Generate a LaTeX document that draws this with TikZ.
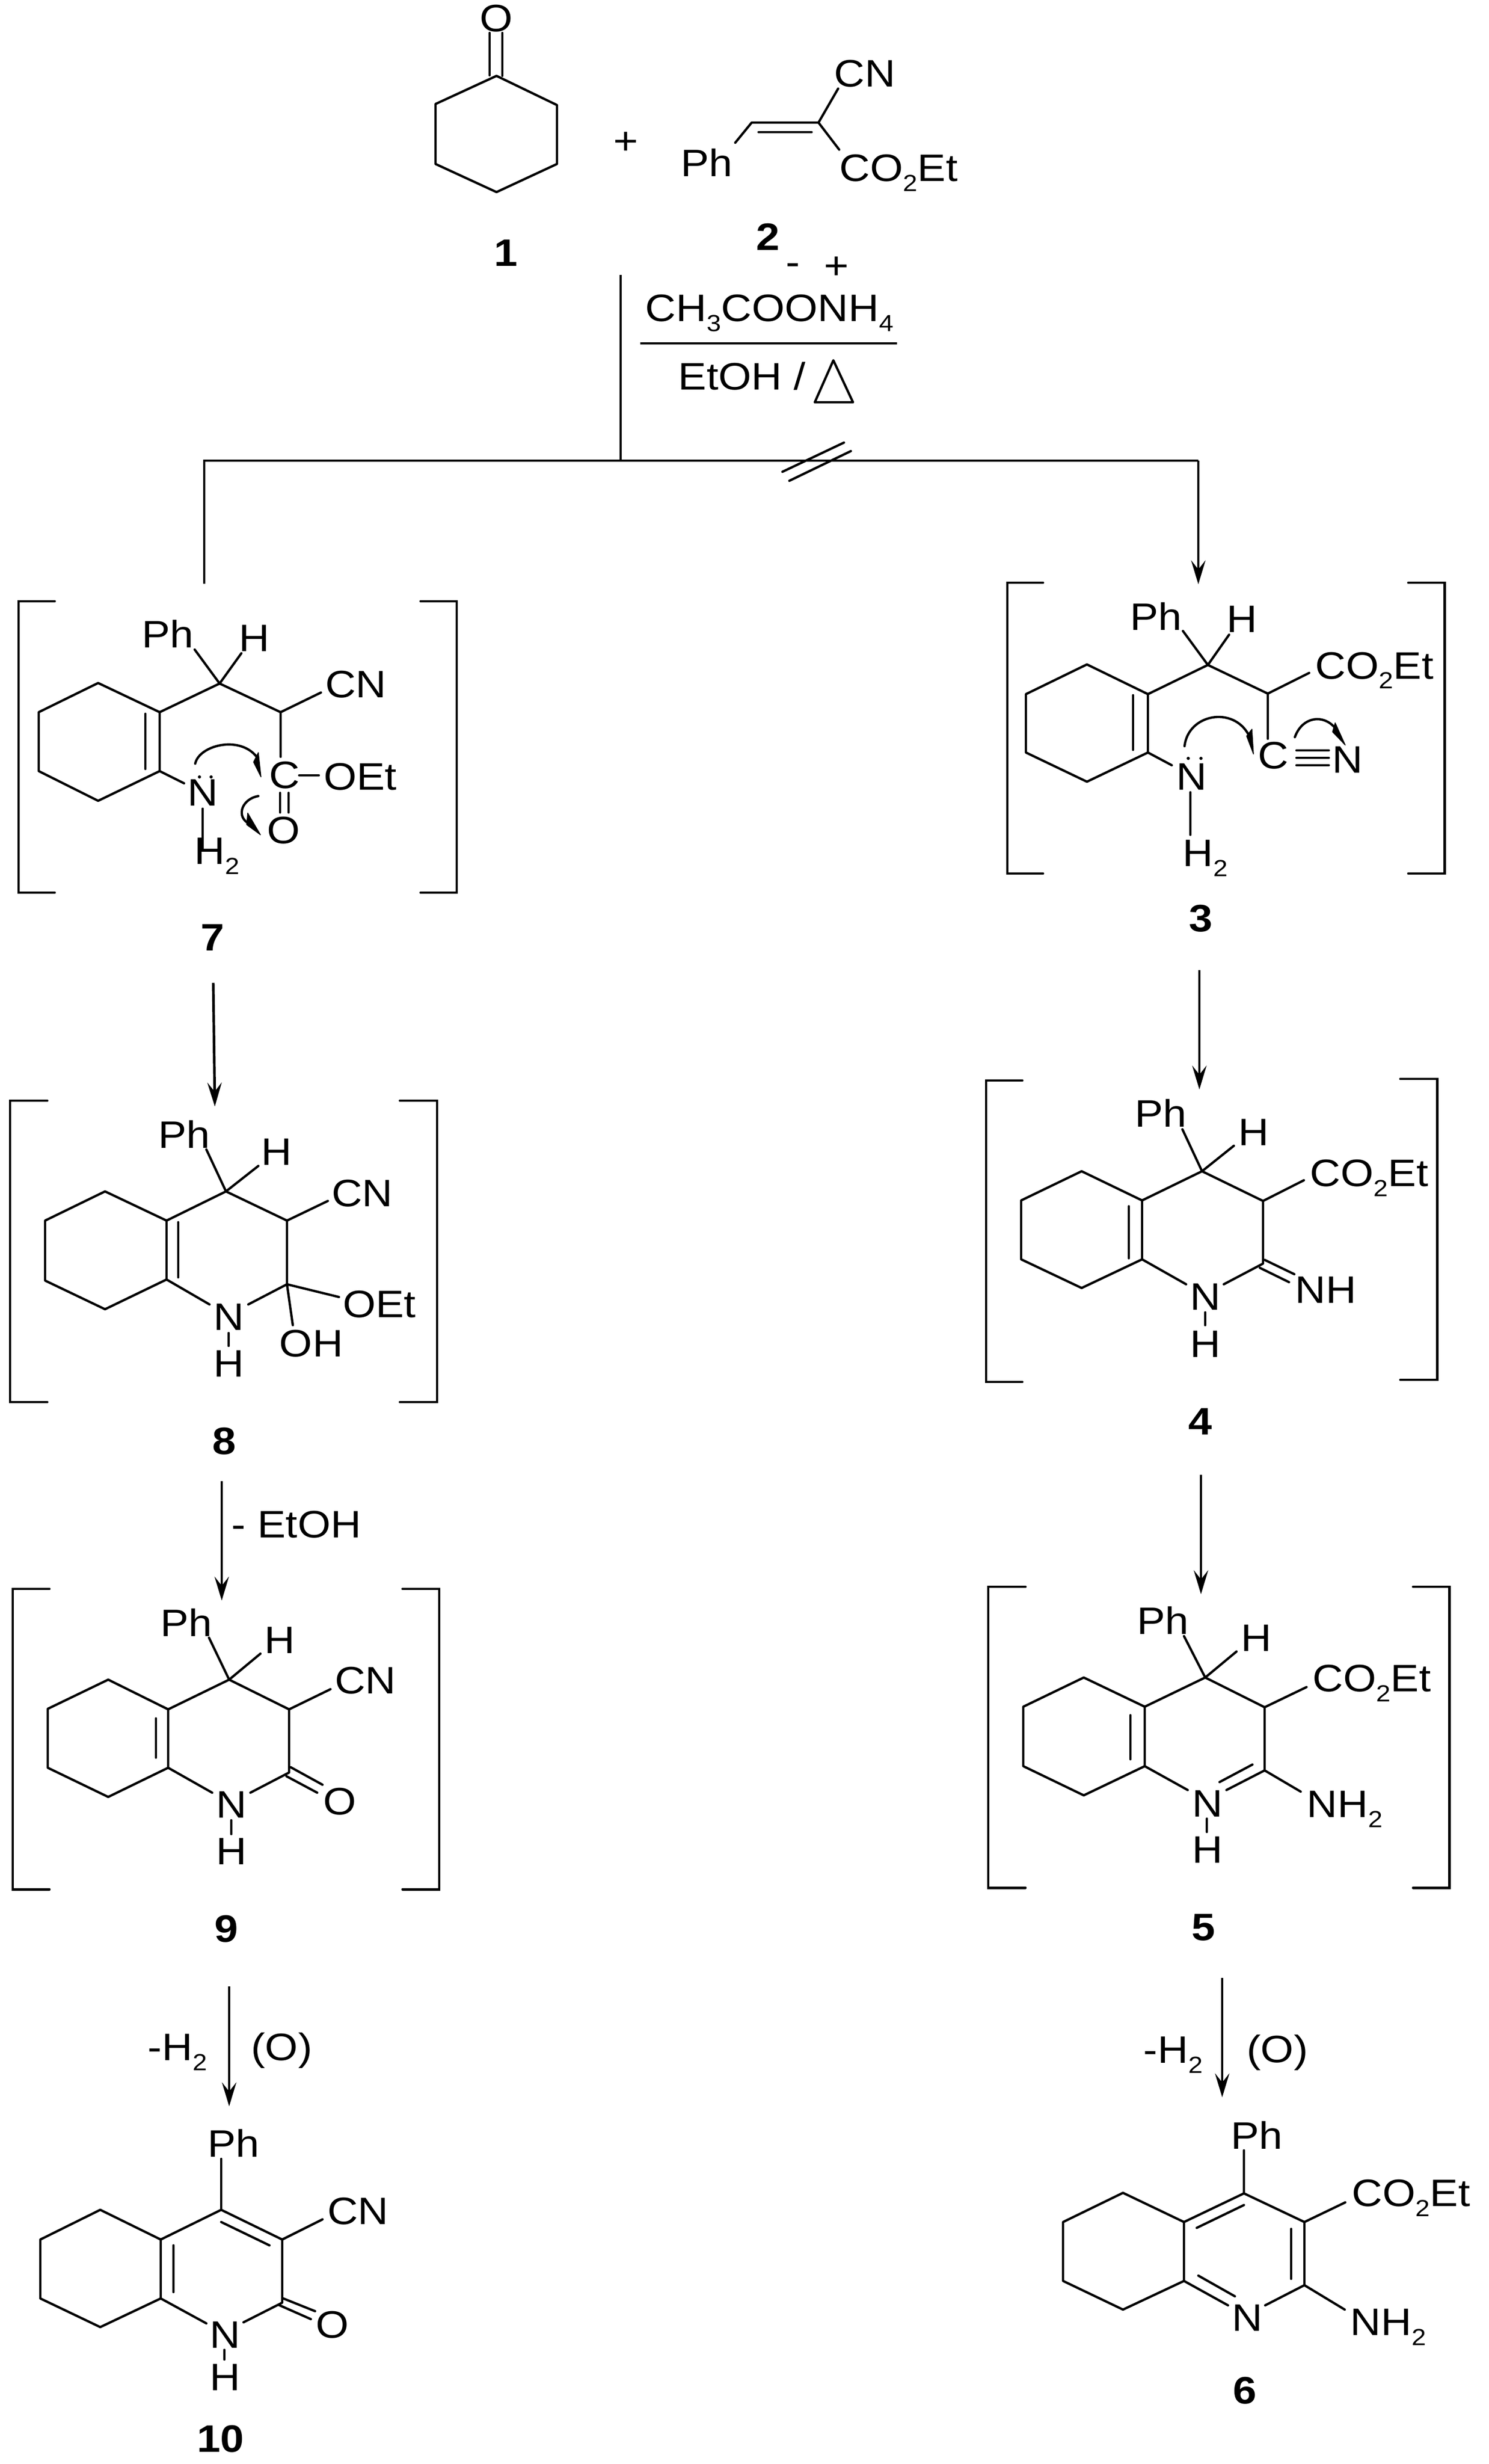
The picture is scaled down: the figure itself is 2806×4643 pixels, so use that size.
\documentclass[tikz,border=0pt]{standalone}
\usepackage{fontspec}
\setmainfont[FakeStretch=1.11]{Liberation Sans}
\usetikzlibrary{arrows.meta}
\newcommand{\two}{\raisebox{-5.4pt}{\fontsize{12.5}{12.5}\selectfont 2}}
\newcommand{\sbs}[1]{\raisebox{-5.4pt}{\fontsize{12.5}{12.5}\selectfont #1}}
\newcommand{\brk}[4]{\draw[brk] (#1,#3) -- (#2,#3) -- (#2,#4) -- (#1,#4);}
\tikzset{
  bond/.style={draw=black, line width=1.25pt, line cap=round, line join=round},
  brk/.style={draw=black, line width=1.4pt, line cap=round, line join=miter},
  flow/.style={draw=black, line width=1.4pt},
  arr/.style={flow, -{Stealth[length=4.5mm, width=2.7mm, inset=1.7mm]}},
  atom/.style={text=black, inner sep=0pt, font=\fontsize{20.5}{24}\selectfont},
  tag/.style={text=black, inner sep=0pt, font=\fontsize{20.5}{24}\selectfont\bfseries},
  west/.style={atom, anchor=base west},
  head/.style={fill=black, draw=black, line width=0.4pt, line join=round},
}
\begin{document}
\begin{tikzpicture}[x=0.01cm, y=-0.01cm]
  \useasboundingbox (0,0) rectangle (2806,4643);
  % reactants
  \draw[bond] (936,143) -- (1050,198) -- (1050,309) -- (936,362) -- (821,309) -- (821,196) -- cycle;
  \draw[bond] (923,142) -- (923,62) (947,143) -- (947,62);
  \node[atom] (o1) at (936,35) {O};
  \node[atom] (plus) at (1180,270) {+};
  \node[tag] (t1) at (954,477) {1};
  \draw[bond] (1386,269) -- (1417,231) -- (1543,231) -- (1580,167) (1543,231) -- (1582,282);
  \draw[bond] (1430,249) -- (1530,249);
  \node[atom] (ph2) at (1332,306) {Ph};
  \node[atom] (cn2) at (1630,139) {CN};
  \node[west] (es2) at (1582,342) {CO\two Et};
  \node[tag] (t2) at (1448,446) {2};
  % conditions
  \node[atom] (minus) at (1495,508) {-};
  \node[atom] (pluss) at (1577,505) {+};
  \node[west] (reag) at (1216,606) {CH\sbs{3}COONH\sbs{4}};
  \draw[flow] (1207,647) -- (1691,647);
  \node[west] (solv) at (1278,735) {EtOH /};
  \draw[bond] (1571,679) -- (1536,758) -- (1608,758) -- cycle;
  % fork
  \coordinate (top) at (1170,518);
  \coordinate (fork) at (1170,868);
  \coordinate (forkl) at (385,868);
  \coordinate (forkr) at (2259,868);
  \coordinate (endl) at (385,1100);
  \coordinate (tip3) at (2259,1101);
  \draw[flow] (top) -- (fork);
  \draw[flow] (endl) -- (forkl) -- (forkr);
  \draw[arr] (forkr) -- (tip3);
  \draw[bond] (1475,889) -- (1591,834) (1488,906) -- (1604,850);
  % 7
  \brk{103}{35}{1133}{1682}
  \brk{793}{861}{1133}{1682}
  \draw[bond] (185,1287) -- (73,1342) -- (73,1453) -- (185,1509) -- (301,1453) -- (301,1342) -- cycle;
  \draw[bond] (274,1345) -- (274,1449);
  \draw[bond] (301,1342) -- (414,1288) -- (529,1342) -- (529,1426) (529,1342) -- (605,1305);
  \draw[bond] (367,1224) -- (414,1288) -- (455,1231);
  \draw[bond] (301,1453) -- (347,1476) (382,1524) -- (382,1600);
  \draw[bond] (564,1461) -- (601,1461) (528,1494) -- (528,1531) (544,1494) -- (544,1531);
  \node[atom] (ph7) at (316,1194) {Ph};
  \node[atom] (h7) at (479,1203) {H};
  \node[atom] (cn7) at (671,1290) {CN};
  \node[atom] (c7) at (536,1461) {C};
  \node[atom] (et7) at (679,1464) {OEt};
  \node[atom] (o7) at (535,1565) {O};
  \node[atom] (n7) at (382,1494) {N};
  \node[west] (h27) at (366,1628) {H\two};
  \fill (376,1464) circle (3) (398,1464) circle (3);
  \draw[bond] (368,1439) .. controls (375,1405) and (450,1385) .. (483,1425);
  \draw[head] (492,1464) -- (478,1436) -- (487,1418) -- cycle;
  \draw[bond] (487,1500) .. controls (458,1505) and (445,1535) .. (466,1550);
  \draw[head] (491,1573) -- (465,1554) -- (467,1532) -- cycle;
  \node[tag] (t7) at (401,1767) {7};
  % 3
  \brk{1966}{1899}{1098}{1646}
  \brk{2655}{2723}{1098}{1646}
  \draw[bond] (2049,1252) -- (1934,1308) -- (1934,1418) -- (2049,1473) -- (2164,1418) -- (2164,1308) -- cycle;
  \draw[bond] (2136,1310) -- (2136,1413);
  \draw[bond] (2164,1308) -- (2277,1253) -- (2390,1307) -- (2390,1392) (2390,1307) -- (2468,1268);
  \draw[bond] (2230,1189) -- (2277,1253) -- (2317,1196);
  \draw[bond] (2164,1418) -- (2209,1442) (2244,1493) -- (2244,1573);
  \draw[bond] (2444,1414) -- (2505,1414) (2444,1428) -- (2505,1428) (2444,1442) -- (2505,1442);
  \node[atom] (ph3) at (2179,1161) {Ph};
  \node[atom] (h3) at (2341,1167) {H};
  \node[west] (es3) at (2479,1279) {CO\two Et};
  \node[atom] (c3) at (2400,1424) {C};
  \node[atom] (n3) at (2540,1432) {N};
  \node[atom] (nh3) at (2246,1464) {N};
  \node[west] (h23) at (2229,1632) {H\two};
  \fill (2240,1429) circle (3) (2264,1429) circle (3);
  \draw[bond] (2233,1406) .. controls (2240,1345) and (2325,1330) .. (2354,1385);
  \draw[head] (2363,1421) -- (2350,1387) -- (2360,1374) -- cycle;
  \draw[bond] (2441,1389) .. controls (2455,1350) and (2495,1345) .. (2517,1372);
  \draw[head] (2536,1404) -- (2512,1379) -- (2517,1362) -- cycle;
  \node[tag] (t3) at (2264,1731) {3};
  % 8
  \coordinate (a7) at (402,1852);
  \coordinate (b8) at (405,2085);
  \draw[arr] (a7) -- (b8);
  \brk{89}{19}{2074}{2642}
  \brk{754}{824}{2074}{2642}
  \draw[bond] (198,2245) -- (85,2300) -- (85,2413) -- (198,2467) -- (314,2411) -- (314,2300) -- cycle;
  \draw[bond] (336,2303) -- (336,2407);
  \draw[bond] (314,2300) -- (426,2245) -- (541,2300) -- (541,2420) -- (468,2458) (541,2300) -- (618,2263);
  \draw[bond] (389,2166) -- (426,2245) -- (487,2197);
  \draw[bond] (314,2411) -- (395,2458) (431,2512) -- (431,2536);
  \draw[bond] (639,2444) -- (541,2420) -- (552,2497);
  \node[atom] (ph8) at (347,2137) {Ph};
  \node[atom] (h8) at (521,2171) {H};
  \node[atom] (cn8) at (683,2249) {CN};
  \node[atom] (n8) at (431,2482) {N};
  \node[atom] (et8) at (715,2458) {OEt};
  \node[atom] (oh8) at (587,2532) {OH};
  \node[atom] (hn8) at (431,2570) {H};
  \node[tag] (t8) at (423,2716) {8};
  % 9
  \coordinate (a8) at (418,2791);
  \coordinate (b9) at (418,3016);
  \draw[arr] (a8) -- (b9);
  \node[west] (loss) at (436,2897) {- EtOH};
  \brk{93}{24}{2994}{3560}
  \brk{759}{828}{2994}{3560}
  \draw[bond] (204,3165) -- (90,3220) -- (90,3331) -- (204,3386) -- (317,3331) -- (317,3221) -- cycle;
  \draw[bond] (294,3238) -- (294,3312);
  \draw[bond] (317,3221) -- (432,3165) -- (545,3221) -- (545,3340) -- (472,3378) (545,3221) -- (623,3183);
  \draw[bond] (394,3086) -- (432,3165) -- (491,3116);
  \draw[bond] (317,3331) -- (400,3378) (436,3430) -- (436,3456);
  \draw[bond] (548,3330) -- (608,3363) (540,3347) -- (598,3378);
  \node[atom] (ph9) at (351,3057) {Ph};
  \node[atom] (h9) at (527,3091) {H};
  \node[atom] (cn9) at (689,3167) {CN};
  \node[atom] (n9) at (436,3401) {N};
  \node[atom] (o9) at (641,3395) {O};
  \node[atom] (hn9) at (436,3489) {H};
  \node[tag] (t9) at (427,3635) {9};
  % 10
  \coordinate (a9) at (432,3743);
  \coordinate (b10) at (432,3969);
  \draw[arr] (a9) -- (b10);
  \node[west] (oxl) at (278,3882) {-H\two};
  \node[atom] (oxr) at (531,3864) {(O)};
  \draw[bond] (189,4164) -- (76,4220) -- (76,4331) -- (189,4385) -- (303,4331) -- (303,4220) -- cycle;
  \draw[bond] (327,4231) -- (327,4319) (417,4187) -- (508,4231);
  \draw[bond] (303,4220) -- (417,4164) -- (532,4220) -- (532,4339) -- (459,4376) (532,4220) -- (608,4182);
  \draw[bond] (417,4068) -- (417,4164);
  \draw[bond] (303,4331) -- (389,4378) (423,4428) -- (423,4446);
  \draw[bond] (534,4331) -- (594,4355) (525,4343) -- (586,4370);
  \node[atom] (ph10) at (440,4038) {Ph};
  \node[atom] (cn10) at (675,4167) {CN};
  \node[atom] (n10) at (424,4400) {N};
  \node[atom] (o10) at (627,4381) {O};
  \node[atom] (hn10) at (424,4480) {H};
  \node[tag] (t10) at (416,4596) {10};
  % 4
  \coordinate (a3) at (2261,1828);
  \coordinate (b4) at (2261,2053);
  \draw[arr] (a3) -- (b4);
  \brk{1927}{1859}{2036}{2604}
  \brk{2640}{2709}{2033}{2600}
  \draw[bond] (2039,2207) -- (1925,2262) -- (1925,2373) -- (2039,2427) -- (2153,2373) -- (2153,2262) -- cycle;
  \draw[bond] (2128,2273) -- (2128,2371);
  \draw[bond] (2153,2262) -- (2266,2207) -- (2381,2263) -- (2381,2381) -- (2307,2420) (2381,2263) -- (2458,2224);
  \draw[bond] (2229,2128) -- (2266,2207) -- (2326,2159);
  \draw[bond] (2153,2373) -- (2236,2420) (2272,2473) -- (2272,2497);
  \draw[bond] (2384,2374) -- (2440,2401) (2375,2389) -- (2430,2416);
  \node[atom] (ph4) at (2188,2097) {Ph};
  \node[atom] (h4) at (2363,2134) {H};
  \node[west] (es4) at (2469,2235) {CO\two Et};
  \node[atom] (n4) at (2272,2444) {N};
  \node[atom] (nh4) at (2499,2431) {NH};
  \node[atom] (hn4) at (2272,2533) {H};
  \node[tag] (t4) at (2263,2679) {4};
  % 5
  \coordinate (a4) at (2264,2779);
  \coordinate (b5) at (2264,3004);
  \draw[arr] (a4) -- (b5);
  \brk{1933}{1863}{2990}{3557}
  \brk{2664}{2732}{2990}{3557}
  \draw[bond] (2043,3161) -- (1929,3216) -- (1929,3328) -- (2043,3383) -- (2158,3328) -- (2158,3216) -- cycle;
  \draw[bond] (2131,3232) -- (2131,3315);
  \draw[bond] (2158,3216) -- (2272,3161) -- (2384,3217) -- (2384,3336) -- (2312,3373) (2384,3217) -- (2463,3179);
  \draw[bond] (2232,3083) -- (2272,3161) -- (2331,3112);
  \draw[bond] (2158,3328) -- (2239,3373) (2275,3427) -- (2275,3452);
  \draw[bond] (2299,3358) -- (2361,3325) (2384,3336) -- (2452,3376);
  \node[atom] (ph5) at (2192,3053) {Ph};
  \node[atom] (h5) at (2368,3087) {H};
  \node[west] (es5) at (2474,3187) {CO\two Et};
  \node[atom] (n5) at (2276,3399) {N};
  \node[west] (nh5) at (2463,3424) {NH\two};
  \node[atom] (hn5) at (2276,3486) {H};
  \node[tag] (t5) at (2269,3632) {5};
  % 6
  \coordinate (a5) at (2304,3727);
  \coordinate (b6) at (2304,3952);
  \draw[arr] (a5) -- (b6);
  \node[west] (oxl6) at (2155,3887) {-H\two};
  \node[atom] (oxr6) at (2408,3868) {(O)};
  \draw[bond] (2117,4132) -- (2004,4187) -- (2004,4298) -- (2117,4352) -- (2232,4298) -- (2232,4187) -- cycle;
  \draw[bond] (2256,4198) -- (2345,4155) (2434,4200) -- (2434,4294) (2259,4288) -- (2328,4327);
  \draw[bond] (2232,4187) -- (2345,4133) -- (2459,4187) -- (2459,4306) -- (2385,4344) (2459,4187) -- (2536,4150);
  \draw[bond] (2345,4052) -- (2345,4133) (2232,4298) -- (2315,4344) (2459,4306) -- (2535,4352);
  \node[atom] (ph6) at (2369,4023) {Ph};
  \node[west] (es6) at (2548,4157) {CO\two Et};
  \node[atom] (n6) at (2351,4368) {N};
  \node[west] (nh6) at (2545,4400) {NH\two};
  \node[tag] (t6) at (2347,4505) {6};
\end{tikzpicture}
\end{document}
